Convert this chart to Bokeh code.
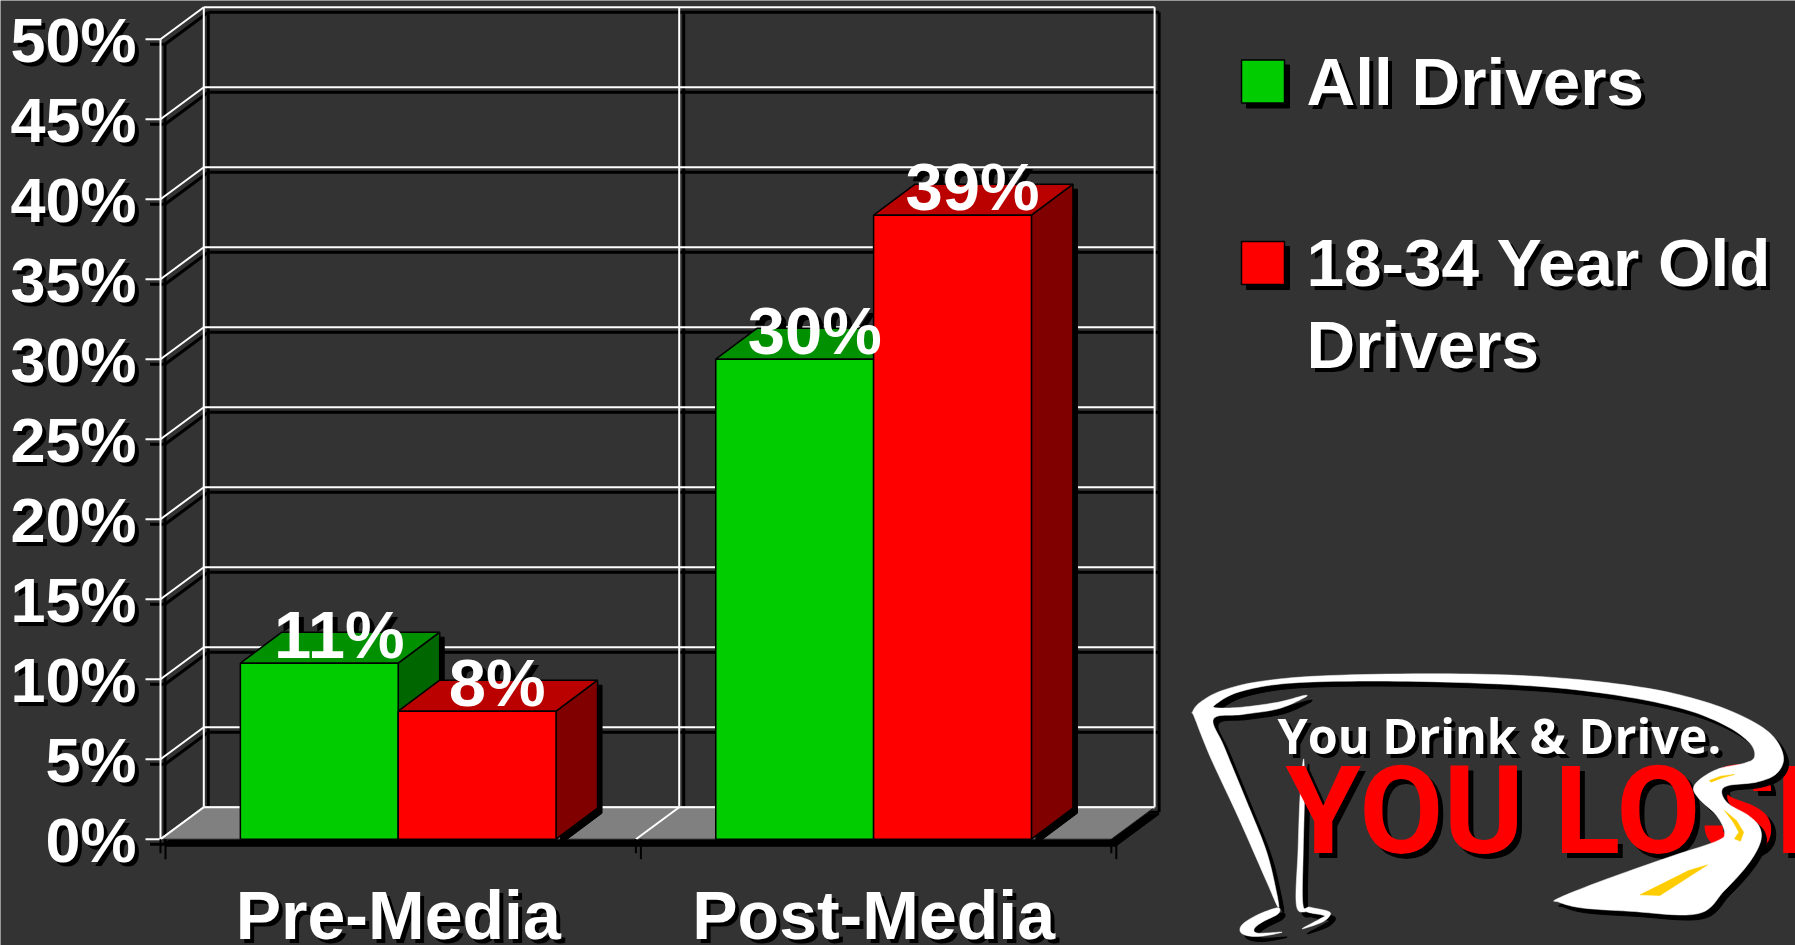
import numpy as np
from bokeh.plotting import figure
from bokeh.embed import file_html
from bokeh.resources import INLINE
from bokeh.core.properties import value

# ---- chart data ----
categories = ["Pre-Media", "Post-Media"]
all_drivers = [11, 30]
young_drivers = [8, 39]
y_ticks = [0, 5, 10, 15, 20, 25, 30, 35, 40, 45, 50]
y_tick_labels = ["0%", "5%", "10%", "15%", "20%", "25%", "30%", "35%", "40%", "45%", "50%"]
series_names = ["All Drivers", "18-34 Year Old", "Drivers"]
logo_line1 = "You Drink & Drive."
logo_line2 = "YOU LOSE"

# ---- scale set-up (pixels per data unit of the front plane) ----
W, H = 1795, 945
UX, UY = 475.4, 16.0
X0, Y0 = 160.0, 838.7
FONT = value("Liberation Sans")
BG = "#333333"

p = figure(width=W, height=H, toolbar_location=None, output_backend="svg",
           x_range=(-X0 / UX, (W - X0) / UX), y_range=((Y0 - H) / UY, Y0 / UY),
           x_axis_location=None, y_axis_location=None, min_border=0,
           background_fill_color=BG, border_fill_color=BG, outline_line_color=None,
           styles={"position": "absolute", "left": "0", "top": "0"})
p.grid.visible = False

dx, dy = 43.3 / UX, 32 / UY          # depth of the plot box
bx, by = 41.5 / UX, 31 / UY          # depth of a bar
sx, sy = 4.5 / UX, 5 / UY            # drop shadow
BASE_FIX = 0.36                      # lifts the drawn text on to its baseline


def px(x):
    return (np.asarray(x, dtype=float) - X0) / UX


def py(y):
    return (Y0 - np.asarray(y, dtype=float)) / UY


def shadowed(x, y, text, size, align="center", xo=0, yo=0, color="white", shadow=4,
             font=FONT, shadow_only=False, no_shadow=False, fix=BASE_FIX):
    kw = dict(text_font=font, text_font_style="bold", text_font_size=f"{size}px",
              text_align=align, text_baseline="alphabetic")
    yo = yo - fix * size
    if not no_shadow:
        p.text(x, y, text=text, x_offset=xo + shadow, y_offset=yo + shadow, text_color="black", **kw)
    if not shadow_only:
        p.text(x, y, text=text, x_offset=xo, y_offset=yo, text_color=color, **kw)


# ---- box: floor, walls and grid ----
x_splits = [0, 1, 2]
fx = [0, dx, 2 + dx, 2]
fy = [0, dy, dy, 0]
p.patch([v + sx for v in fx], [v - 7 / UY for v in fy], fill_color="black", line_color="black")

ticks = np.array(y_ticks, dtype=float)
tick_len = 15 / UX
for ox, oy, col, w in [(sx, sy, "black", 3), (0, 0, "white", 2)]:
    p.segment([dx + ox] * len(ticks), ticks + dy - oy, [2 + dx + ox] * len(ticks), ticks + dy - oy,
              line_color=col, line_width=w)
    p.segment([v + dx + ox for v in x_splits], [dy - oy] * 3, [v + dx + ox for v in x_splits],
              [ticks.max() + dy - oy] * 3, line_color=col, line_width=w)
    p.segment([ox] * len(ticks), ticks - oy, [dx + ox] * len(ticks), ticks + dy - oy,
              line_color=col, line_width=w)
    p.segment([ox], [-oy], [ox], [ticks.max() - oy], line_color=col, line_width=w)
    p.segment([-tick_len + ox] * len(ticks), ticks - oy, [ox] * len(ticks), ticks - oy,
              line_color=col, line_width=w)

p.patch(fx, fy, fill_color="#808080", line_color="#202020", line_width=1)
p.line([dx, 2 + dx], [dy, dy], line_color="white", line_width=2)
p.segment([0, 1], [0, 0], [dx, 1 + dx], [dy, dy], line_color="white", line_width=2)
# category ticks under the floor
p.segment(x_splits, [0] * 3, x_splits, [-14 / UY] * 3, line_color="black", line_width=2)
p.segment([v + 5 / UX for v in x_splits], [0] * 3, [v + 5 / UX for v in x_splits], [-20 / UY] * 3,
          line_color="black", line_width=2)

# ---- axis labels ----
shadowed([0] * len(y_ticks), y_ticks, y_tick_labels, 63, align="right", xo=-24, yo=23)
shadowed([0.5, 1.5], [0, 0], categories, 68, yo=100.5)

# ---- value labels: their shadow lies behind the bars ----
bar_w = 0.332
val_x = [i + 0.5 + off * bar_w for i in range(2) for off in (-0.5, 0.5)]
val_y = [v for pair in zip(all_drivers, young_drivers) for v in pair]
val_t = [f"{v}%" for v in val_y]
shadowed(val_x, val_y, val_t, 67, xo=20, yo=-5, shadow=5, shadow_only=True)

# ---- 3-D bars ----
series = [(all_drivers, -1, "#00CC00", "#009000", "#006600"),
          (young_drivers, 0, "#FF0000", "#BB0000", "#800000")]
for vals, off, front, top, side in series:
    for i, v in enumerate(vals):
        l = i + 0.5 + off * bar_w
        r = l + bar_w
        p.patch([l + bx + sx, r + bx + sx, r + bx + sx, r + sx, r + sx],
                [v + by - sy, v + by - sy, by - sy, -sy, v - sy], fill_color="black", line_color="black")
        p.patch([r, r + bx, r + bx, r], [0, by, v + by, v], fill_color=side, line_color="black", line_width=1.5)
        p.patch([l, l + bx, r + bx, r], [v, v + by, v + by, v], fill_color=top, line_color="black", line_width=1.5)
        p.quad(left=[l], right=[r], bottom=[0], top=[v], fill_color=front, line_color="black", line_width=1.5)

shadowed(val_x, val_y, val_t, 67, xo=20, yo=-5, no_shadow=True)

# ---- legend ----
for top_px, col in [(59.5, "#00CC00"), (241, "#FF0000")]:
    l, r = px(1241), px(1284)
    t, b = py(top_px), py(top_px + 43)
    p.quad(left=[l + 5 / UX], right=[r + 5 / UX], bottom=[b - 5 / UY], top=[t - 5 / UY], fill_color="black", line_color="black")
    p.quad(left=[l], right=[r], bottom=[b], top=[t], fill_color=col, line_color="black", line_width=1.5)
shadowed(px([1306, 1306, 1306]), py([105, 286.7, 368]), series_names, 67.5, align="left", shadow=4)


# ---- logo (decoration traced in page pixels) ----
def smooth(pts, n=10):
    P = np.array(pts, dtype=float)
    m = len(P)
    out = []
    for i in range(m):
        a, b, c, d = P[(i - 1) % m], P[i], P[(i + 1) % m], P[(i + 2) % m]
        for t in np.linspace(0, 1, n, endpoint=False):
            out.append(0.5 * (2 * b + (c - a) * t + (2 * a - 5 * b + 4 * c - d) * t ** 2 + (3 * b - a - 3 * c + d) * t ** 3))
    return np.array(out)


def logo_xy(P):
    P = np.asarray(P, dtype=float)
    return 1170 + P[:, 0] / 2.509, 650 + P[:, 1] / 3


def logo_patch(pts, color, curved=True, shadow=True):
    P = smooth(pts) if curved else np.array(pts, dtype=float)
    x, y = logo_xy(P)
    if shadow:
        p.patch(px(x + 5), py(y + 5), fill_color="black", line_color="black")
    p.patch(px(x), py(y), fill_color=color, line_color=color, line_width=0.5)


ribbon = [(55, 185), (75, 155), (130, 120), (230, 92), (400, 75), (700, 70), (950, 80), (1180, 110), (1330, 150),
          (1440, 200), (1510, 255), (1538, 320), (1520, 370), (1470, 395), (1400, 405), (1383, 425), (1400, 460),
          (1450, 495), (1478, 530), (1480, 575), (1450, 640), (1390, 720), (1322, 790), (1150, 782), (1030, 772),
          (975, 755), (970, 745), (1080, 692), (1250, 620), (1370, 572), (1390, 545), (1370, 495), (1330, 450),
          (1312, 415), (1330, 385), (1375, 355), (1440, 338), (1465, 320), (1455, 280), (1400, 230), (1300, 180),
          (1150, 140), (950, 110), (700, 95), (450, 92), (280, 100), (170, 125), (115, 160), (115, 172), (180, 170),
          (270, 155), (335, 135), (335, 142), (270, 175), (180, 192), (108, 205), (135, 290), (190, 450), (240, 600),
          (265, 720), (270, 770), (240, 690), (170, 500), (100, 320), (60, 200)]
stem = [(334, 325), (336, 440), (333, 600), (332, 760), (350, 770), (395, 782), (400, 795), (380, 815), (330, 835),
        (375, 805), (385, 795), (345, 785), (316, 765), (320, 600), (325, 440)]
base = [(268, 772), (215, 795), (178, 825), (180, 850), (220, 858), (280, 845), (220, 848), (210, 835), (230, 815),
        (270, 790)]
dash_long = [(1178, 733), (1300, 660), (1348, 643), (1228, 735)]
dash_a = [(1352, 390), (1380, 377), (1415, 372), (1385, 382), (1356, 395)]
dash_b = [(1390, 480), (1420, 510), (1438, 545), (1430, 572), (1415, 565), (1426, 545), (1412, 515)]

logo_patch(stem, "white")
logo_patch(base, "white")
shadowed(px([1285]), py([854]), [logo_line2], 122, align="left", color="#FF0000", shadow=5, font=value("Roboto"), fix=0.35)
shadowed(px([1277]), py([751.7]), [logo_line1], 48.5, align="left", shadow=4, font=value("Open Sans"))
logo_patch(ribbon, "white")
for d in (dash_long, dash_a, dash_b):
    logo_patch(d, "#FFCC00", curved=False, shadow=False)

open("out.html", "w").write(file_html(p, INLINE))
